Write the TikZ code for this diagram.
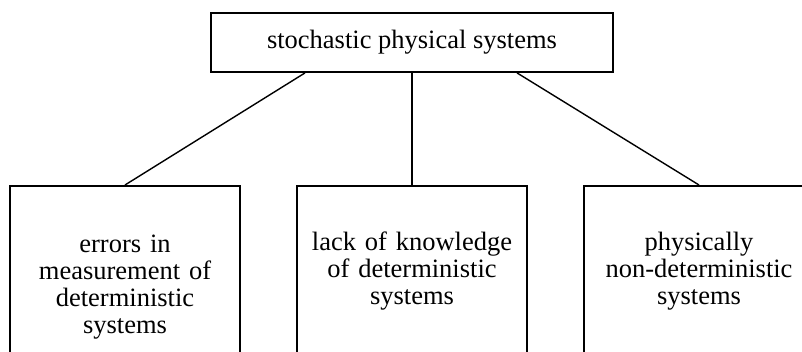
\documentclass[tikz,border=0pt]{standalone}
\usepackage{fontspec}
\setmainfont{Liberation Serif}
\usetikzlibrary{positioning}

\begin{document}
\begin{tikzpicture}[x=1pt, y=-1pt, line width=1.4pt,
    topbox/.style={draw, line width=1.8pt, minimum width=402pt, minimum height=59pt, inner sep=0pt, font=\fontsize{26.5}{27}\selectfont},
    subbox/.style={draw, line width=1.8pt, anchor=north, text width=230pt, inner sep=0pt, align=center, font=\fontsize{26.5}{27}\selectfont}]
\useasboundingbox (0,0) rectangle (802,352);
\node[topbox] (top) at (412,42.5) {stochastic physical systems};
\node[subbox, minimum height=202pt] (err) at (125,185) {errors in\\measurement of\\deterministic\\systems};
\node[subbox, minimum height=170pt] (lack) at (412,185) {lack of knowledge\\of deterministic\\systems};
\node[subbox, minimum height=170pt] (phys) at (699,185) {physically\\non-deterministic\\systems};
% Lines
\draw ([xshift=-107pt]top.south) -- (err.north);
\draw (top.south) -- (lack.north);
\draw ([xshift=105pt]top.south) -- (phys.north);
\end{tikzpicture}
\end{document}
